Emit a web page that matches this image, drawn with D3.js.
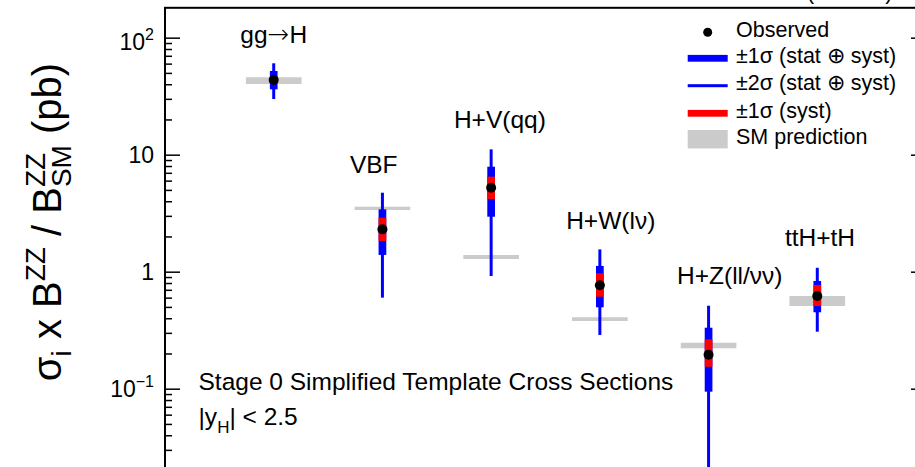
<!DOCTYPE html>
<html><head><meta charset="utf-8">
<script src="https://cdn.jsdelivr.net/npm/d3@7/dist/d3.min.js"></script>
<style>
html,body{margin:0;padding:0;background:#fff;}
svg{display:block;font-family:"Liberation Sans",Arial,Helvetica,sans-serif;}
text{white-space:pre;}
</style></head><body>
<svg id="chart" width="915" height="467"></svg>
<script>
// Production-mode cross sections (pb), Stage 0 STXS, |yH| < 2.5
const categories = ["gg→H", "VBF", "H+V(qq)", "H+W(lν)", "H+Z(ll/νν)", "ttH+tH"];
const observed  = [43.5, 2.30, 5.22, 0.765, 0.195, 0.620];
const sigma1Lo  = [36.2, 1.39, 2.95, 0.496, 0.0943, 0.450];
const sigma1Hi  = [51.9, 3.41, 7.89, 1.12, 0.332, 0.833];
const sigma2Lo  = [29.9, 0.60, 0.919, 0.288, 0.005, 0.307];
const sigma2Hi  = [60.4, 4.73, 11.1, 1.55, 0.512, 1.08];
const systLo    = [41.5, 1.83, 4.18, 0.611, 0.154, 0.509];
const systHi    = [45.5, 2.89, 6.49, 0.969, 0.264, 0.770];
const smLo      = [40.2, 3.37, 1.284, 0.379, 0.2215, 0.509];
const smHi      = [45.9, 3.59, 1.389, 0.408, 0.247, 0.620];
// label anchors in data coordinates (bin, pb)
const labelBin  = [1.0, 1.92, 3.08, 4.10, 5.195, 6.025];
const labelVal  = [90.1, 7.04, 16.9, 2.30, 0.785, 1.66];
// y axis
const majorTicks = [0.1, 1, 10, 100];
const majorTickLabels = [["10", "−1"], ["1", null], ["10", null], ["10", "2"]];
const legendLabels = ["Observed", "±1σ (stat ⊕ syst)", "±2σ (stat ⊕ syst)", "±1σ (syst)", "SM prediction"];

const svg = d3.select("#chart");
const L = 165, R = 926, T = 7.8, B = 505.7;
const x = d3.scaleLinear().domain([0, 7]).range([L, R]);
const y = d3.scaleLog().domain([0.01, 180]).range([B, T]);

const BLUE = "#0000ff", RED = "#ff0000", GREY = "#cbcbcb";

// lays out runs of text with sub/superscripts side by side
function rich(parent, px, py, pieces, anchor, rotate) {
  const g = parent.append("g");
  let cx = 0, prevStart = 0, prevW = 0;
  const nodes = [];
  pieces.forEach(p => {
    const t = g.append("text").attr("font-size", p.size).attr("y", p.dy || 0).text(p.t);
    if (p.font) t.attr("font-family", p.font);
    if (p.weight) t.attr("font-weight", p.weight);
    const w = t.node().getComputedTextLength();
    if (p.stack) {
      const adv = Math.max(prevW, w);
      nodes.push([t, prevStart]);
      cx = prevStart + adv; prevW = adv;
    } else {
      nodes.push([t, cx]);
      prevStart = cx; prevW = w; cx += w;
    }
  });
  const off = anchor === "middle" ? -cx / 2 : anchor === "end" ? -cx : 0;
  nodes.forEach(([t, xx]) => t.attr("x", xx + off));
  g.attr("transform", `translate(${px},${py})` + (rotate ? ` rotate(${rotate})` : ""));
  return g;
}

const plot = svg.append("g");

// SM prediction bands
const smW = 0.256;
plot.selectAll("rect.sm").data(categories).join("rect")
  .attr("x", (d, i) => x(i + 1 - smW))
  .attr("width", x(1 + smW) - x(1 - smW))
  .attr("y", (d, i) => y(smHi[i]))
  .attr("height", (d, i) => y(smLo[i]) - y(smHi[i]))
  .attr("fill", GREY);

// ±2σ thin lines
plot.selectAll("line.s2").data(categories).join("line")
  .attr("x1", (d, i) => x(i + 1)).attr("x2", (d, i) => x(i + 1))
  .attr("y1", (d, i) => y(sigma2Hi[i])).attr("y2", (d, i) => y(sigma2Lo[i]))
  .attr("stroke", BLUE).attr("stroke-width", 3);

// ±1σ thick bars
const barW = 7.7;
plot.selectAll("rect.s1").data(categories).join("rect")
  .attr("x", (d, i) => x(i + 1) - barW / 2).attr("width", barW)
  .attr("y", (d, i) => y(sigma1Hi[i]))
  .attr("height", (d, i) => y(sigma1Lo[i]) - y(sigma1Hi[i]))
  .attr("fill", BLUE);

// ±1σ systematic bars
plot.selectAll("rect.sy").data(categories).join("rect")
  .attr("x", (d, i) => x(i + 1) - barW / 2).attr("width", barW)
  .attr("y", (d, i) => y(systHi[i]))
  .attr("height", (d, i) => y(systLo[i]) - y(systHi[i]))
  .attr("fill", RED);

// observed points
plot.selectAll("circle.obs").data(observed).join("circle")
  .attr("cx", (d, i) => x(i + 1)).attr("cy", d => y(d)).attr("r", 5)
  .attr("fill", "#000");

// frame
svg.append("rect").attr("x", L).attr("y", T).attr("width", R - L).attr("height", B - T)
  .attr("fill", "none").attr("stroke", "#000").attr("stroke-width", 2);

// y axis ticks (left and right, pointing inward)
const minor = [];
[0.01, 0.1, 1, 10, 100].forEach(dec => { for (let k = 2; k <= 9; k++) { const v = dec * k; if (v < 180) minor.push(v); } });
const axL = d3.axisRight(y).tickValues(majorTicks).tickSize(15).tickFormat("");
const axLm = d3.axisRight(y).tickValues(minor).tickSize(7).tickFormat("");
const axR = d3.axisLeft(y).tickValues(majorTicks).tickSize(15).tickFormat("");
const axRm = d3.axisLeft(y).tickValues(minor).tickSize(7).tickFormat("");
[[axL, L], [axLm, L], [axR, R], [axRm, R]].forEach(([ax, xx]) => {
  const g = svg.append("g").attr("transform", `translate(${xx},0)`).call(ax);
  g.select(".domain").remove();
  g.selectAll("line").attr("stroke", "#000").attr("stroke-width", 1.5);
});

// tick labels
majorTicks.forEach((v, i) => {
  const [base, sup] = majorTickLabels[i];
  const pcs = [{ t: base, size: 23 }];
  if (sup) pcs.push({ t: sup, size: 16, dy: -10 });
  const by = v === 100 ? y(v) + 12 : y(v) + 8.5;
  rich(svg, 154, by, pcs, "end");
});

// y axis title
rich(svg, 61, 222, [
  { t: "σ", size: 40 },
  { t: "i", size: 28, dy: 10 },
  { t: " x B", size: 40 },
  { t: "ZZ", size: 28, dy: -16 },
  { t: " / B", size: 40 },
  { t: "ZZ", size: 28, dy: -16 },
  { t: "SM", size: 28, dy: 10, stack: true },
  { t: " (pb)", size: 40 }
], "middle", -90);

// category labels (the arrow is set in a wider, lighter arrow glyph)
categories.forEach((c, i) => {
  const px = x(labelBin[i]), py = y(labelVal[i]);
  if (c.includes("→")) {
    const [a, b] = c.split("→");
    rich(svg, px, py, [
      { t: a, size: 24.5 },
      { t: "→", size: 26, font: "DejaVu Sans", weight: 200 },
      { t: b, size: 24.5 }
    ], "middle");
  } else {
    svg.append("text").attr("x", px).attr("y", py)
      .attr("text-anchor", "middle").attr("font-size", 24.5).text(c);
  }
});

// annotation
svg.append("text").attr("x", 198.5).attr("y", 390).attr("font-size", 24.5)
  .text("Stage 0 Simplified Template Cross Sections");
rich(svg, 198.5, 425, [
  { t: "|y", size: 24.5 },
  { t: "H", size: 17, dy: 8 },
  { t: "| < 2.5", size: 24.5 }
], "start");

// energy label above the frame
svg.append("text").attr("x", 893).attr("y", -1.5).attr("text-anchor", "end")
  .attr("font-size", 23).text("(13 TeV)");

// legend
const lg = svg.append("g");
const sx0 = 687.7, sx1 = 727.7, tx = 736;
const rowC = [32.3, 58.3, 85.7, 113.3, 139.2];
const rowB = [37, 63, 90, 117.5, 144];
lg.append("circle").attr("cx", (sx0 + sx1) / 2).attr("cy", rowC[0]).attr("r", 4.5).attr("fill", "#000");
lg.append("rect").attr("x", sx0).attr("width", sx1 - sx0).attr("y", rowC[1] - 3.4).attr("height", 6.8).attr("fill", BLUE);
lg.append("rect").attr("x", sx0).attr("width", sx1 - sx0).attr("y", rowC[2] - 1.5).attr("height", 3).attr("fill", BLUE);
lg.append("rect").attr("x", sx0).attr("width", sx1 - sx0).attr("y", rowC[3] - 3.4).attr("height", 6.8).attr("fill", RED);
lg.append("rect").attr("x", sx0).attr("width", sx1 - sx0).attr("y", rowC[4] - 9.2).attr("height", 18.4).attr("fill", GREY);
legendLabels.forEach((t, i) => {
  lg.append("text").attr("x", tx).attr("y", rowB[i]).attr("font-size", 21.5).text(t);
});
</script>
</body></html>
